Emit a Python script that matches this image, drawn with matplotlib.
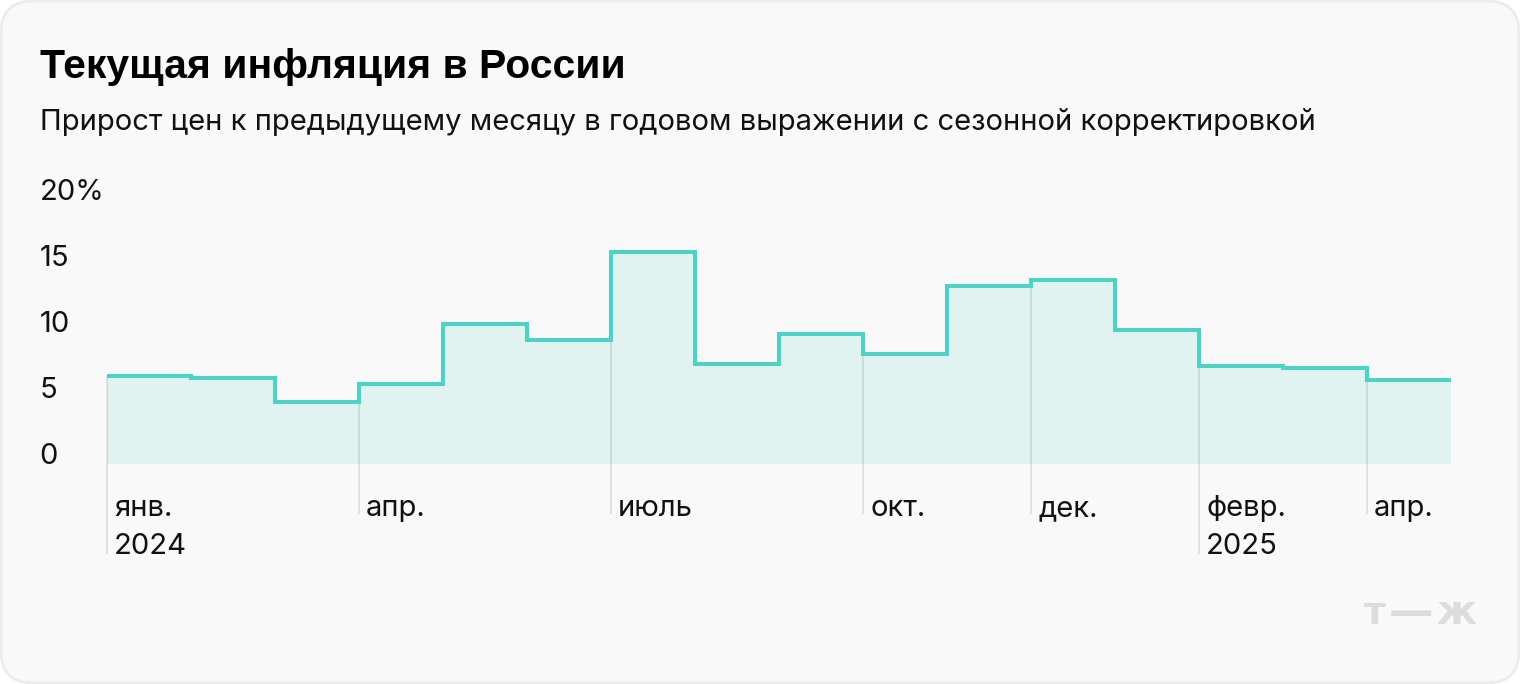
import matplotlib
matplotlib.use("Agg")
import matplotlib.pyplot as plt
from matplotlib.patches import FancyBboxPatch

title = "Текущая инфляция в России"
subtitle = "Прирост цен к предыдущему месяцу в годовом выражении с сезонной корректировкой"
values = [6.67, 6.5, 4.7, 6.06, 10.6, 9.4, 16.06, 7.6, 9.85, 8.33, 13.5, 13.95, 10.15, 7.4, 7.3, 6.36]
y_ticks = [0, 5, 10, 15, 20]
y_labels = ["0", "5", "10", "15", "20%"]
tick_idx = [0, 3, 6, 9, 11, 13, 15]
tick_labels = ["янв.\n2024", "апр.", "июль", "окт.", "дек.", "февр.\n2025", "апр."]

W, H = 1520, 684
fig = plt.figure(figsize=(W / 100, H / 100), dpi=100, facecolor="white")

bg = fig.add_axes([0, 0, 1, 1])
bg.set_xlim(0, W)
bg.set_ylim(H, 0)
bg.axis("off")
bg.add_patch(FancyBboxPatch((1, 1), W - 2, H - 2, boxstyle="round,pad=0,rounding_size=32",
                            fc="#f9f9f9", ec="#ececec", lw=2))

x0, x1, y0, y20 = 107, 1451, 464, 200
ax = fig.add_axes([x0 / W, 1 - y0 / H, (x1 - x0) / W, (y0 - y20) / H])
ax.patch.set_alpha(0)
ax.set_xlim(0, 16)
ax.set_ylim(0, 20)
ax.axis("off")

edges = list(range(len(values) + 1))
ax.stairs(values, edges, fill=True, color="#e0f3f0", lw=0, zorder=1)

TXT = dict(fontsize=21, family="Inter", color="#111111", va="baseline", ha="left", clip_on=False)
for i, lab in zip(tick_idx, tick_labels):
    parts = lab.split("\n")
    low = -(554 - y0) / 13.2 if len(parts) == 2 else -(514 - y0) / 13.2
    ax.plot([i, i], [low, values[i]], color="#000000", alpha=0.12, lw=1.1,
            clip_on=False, zorder=2, solid_capstyle="butt")
    ax.text(i + 0.085, -(516 - y0) / 13.2, parts[0], **TXT)
    if len(parts) == 2:
        ax.text(i + 0.085, -(554 - y0) / 13.2, parts[1], **TXT)

ax.stairs(values, edges, fill=False, color="#4fd2c6", lw=2.9, zorder=3, baseline=None,
          joinstyle="miter")

for v, lab in zip(y_ticks, y_labels):
    ax.text(-(107 - 39.5) / 84, v, lab, **TXT)

fig.text(40 / W, 1 - 78 / H, title, fontsize=29.4, family="Liberation Sans", weight="bold",
         color="black", va="baseline", ha="left")
fig.text(40 / W, 1 - 130 / H, subtitle, fontsize=21, family="Inter", color="#111111",
         va="baseline", ha="left")

logo = "#dcdcdc"
for ch, xc, fs, yb in zip("т—ж", [1375, 1411, 1456], [27, 32, 29], [624, 625, 624]):
    fig.text(xc / W, 1 - yb / H, ch, fontsize=fs, family="DejaVu Sans", weight="bold",
             color=logo, va="baseline", ha="center")

fig.savefig("out.png", dpi=100, facecolor="white")
